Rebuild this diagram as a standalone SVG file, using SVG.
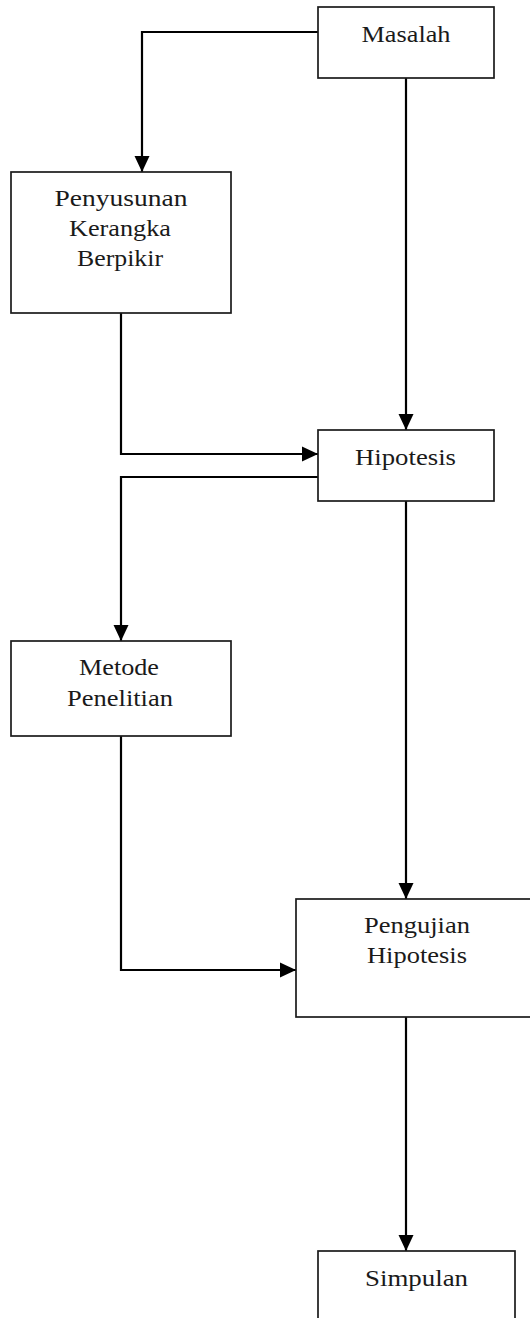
<svg xmlns="http://www.w3.org/2000/svg" width="530" height="1318" viewBox="0 0 530 1318">
  <style>
    .box { fill: #ffffff; stroke: #1a1a1a; stroke-width: 1.7; }
    .lbl { font-family: "Liberation Serif", "Times New Roman", serif; font-size: 23px; fill: #1a1a1a; text-anchor: middle; }
    .edge { fill: none; stroke: #000000; stroke-width: 2.2; }
  </style>
  <defs>
    <marker id="arrow" markerUnits="userSpaceOnUse" markerWidth="17" markerHeight="17" viewBox="0 0 17 17" refX="16" refY="8.5" orient="auto">
      <path d="M0,1 L16,8.5 L0,16 Z" fill="#000000"/>
    </marker>
  </defs>
  <rect width="530" height="1318" fill="#ffffff"/>

  <!-- flow arrows between the steps -->
  <g id="connectors">
    <path class="edge" d="M318,32 H142 V172" marker-end="url(#arrow)"/>
    <path class="edge" d="M406,78 V430" marker-end="url(#arrow)"/>
    <path class="edge" d="M121,313 V454 H318" marker-end="url(#arrow)"/>
    <path class="edge" d="M318,477 H121 V641" marker-end="url(#arrow)"/>
    <path class="edge" d="M406,501 V899" marker-end="url(#arrow)"/>
    <path class="edge" d="M121,736 V970 H296" marker-end="url(#arrow)"/>
    <path class="edge" d="M406,1017 V1251" marker-end="url(#arrow)"/>
  </g>

  <g id="masalah">
    <rect class="box" x="318" y="7" width="176" height="71"/>
    <text class="lbl" x="406" y="42" textLength="89" lengthAdjust="spacingAndGlyphs">Masalah</text>
  </g>

  <g id="penyusunan-kerangka-berpikir">
    <rect class="box" x="11" y="172" width="220" height="141"/>
    <text class="lbl" x="121" y="206" textLength="133" lengthAdjust="spacingAndGlyphs">Penyusunan</text>
    <text class="lbl" x="120" y="236" textLength="102" lengthAdjust="spacingAndGlyphs">Kerangka</text>
    <text class="lbl" x="120" y="266" textLength="86" lengthAdjust="spacingAndGlyphs">Berpikir</text>
  </g>

  <g id="hipotesis">
    <rect class="box" x="318" y="430" width="176" height="71"/>
    <text class="lbl" x="405.5" y="465" textLength="101" lengthAdjust="spacingAndGlyphs">Hipotesis</text>
  </g>

  <g id="metode-penelitian">
    <rect class="box" x="11" y="641" width="220" height="95"/>
    <text class="lbl" x="119" y="675" textLength="80" lengthAdjust="spacingAndGlyphs">Metode</text>
    <text class="lbl" x="120" y="706" textLength="106" lengthAdjust="spacingAndGlyphs">Penelitian</text>
  </g>

  <g id="pengujian-hipotesis">
    <rect class="box" x="296" y="899" width="250" height="118"/>
    <text class="lbl" x="417" y="933" textLength="106" lengthAdjust="spacingAndGlyphs">Pengujian</text>
    <text class="lbl" x="417" y="963" textLength="100" lengthAdjust="spacingAndGlyphs">Hipotesis</text>
  </g>

  <g id="simpulan">
    <rect class="box" x="318" y="1251" width="197" height="90"/>
    <text class="lbl" x="416.5" y="1286" textLength="103" lengthAdjust="spacingAndGlyphs">Simpulan</text>
  </g>
</svg>
